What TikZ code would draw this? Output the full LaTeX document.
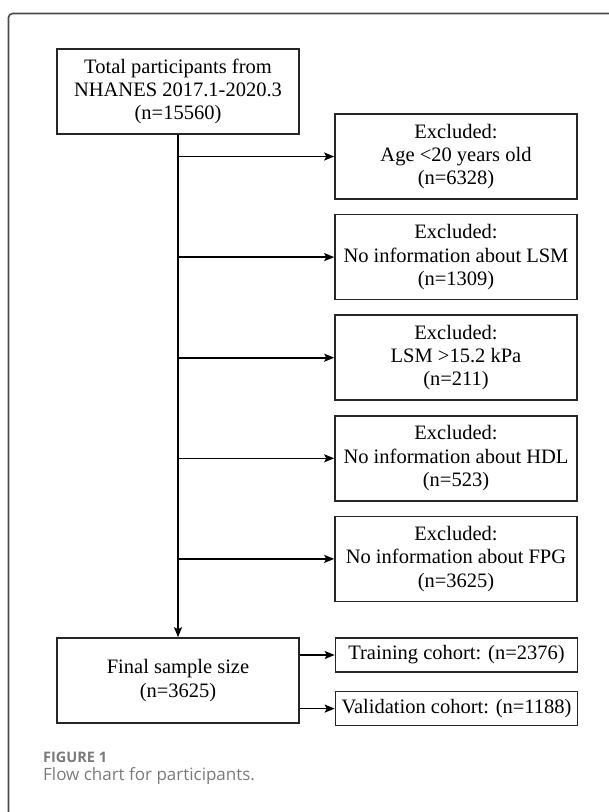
\documentclass[tikz,border=0pt]{standalone}
\usepackage{fontspec}
\setmainfont{Liberation Serif}
\newfontfamily\capfont{Open Sans}
\usepackage{xcolor}
\usepackage{tikz}
\usetikzlibrary{arrows.meta, positioning}
\definecolor{framegray}{HTML}{4A4A4A}
\definecolor{capgray}{HTML}{7A7A7A}

\begin{document}
\begin{tikzpicture}[
        x=1pt, y=-1pt,
        node distance=14pt and 37pt,
        box/.style={rectangle, draw=black!85, line width=1.6pt, minimum width=242pt, minimum height=85pt, align=center, inner sep=3pt, font=\fontsize{20.5}{23.3}\selectfont},
        smallbox/.style={box, minimum height=34pt},
        arrow/.style={-{Stealth[length=10pt, width=8pt, inset=2pt]}, line width=1.6pt}
    ]
        \useasboundingbox (0,0) rectangle (609,812);
        % Frame
        \draw[framegray, line width=1.6pt, rounded corners=4pt] (8.5,812) -- (8.5,13.5) -- (609,13.5);

        % Nodes
        \node[box] (total) at (178,91.5) {Total participants from\\NHANES 2017.1-2020.3\\(n=15560)};

        \node[box] (exc1) at (456,156.5) {Excluded:\\Age <20 years old\\(n=6328)};
        \node[box, below=of exc1] (exc2) {Excluded:\\No information about LSM\\(n=1309)};
        \node[box, below=of exc2] (exc3) {Excluded:\\LSM >15.2 kPa\\(n=211)};
        \node[box, below=of exc3] (exc4) {Excluded:\\No information about HDL\\(n=523)};
        \node[box, below=of exc4] (exc5) {Excluded:\\No information about FPG\\(n=3625)};

        \node[box] (final) at (178,680.5) {Final sample size\\(n=3625)};
        \node[smallbox] (train) at (456.5,655) {Training cohort: (n=2376)};
        \node[smallbox, below=18pt of train] (valid) {Validation cohort: (n=1188)};

        % Caption
        \node[anchor=base west, inner sep=0pt, text=capgray, font=\capfont\bfseries\fontsize{14.5}{16}\selectfont] (fig) at (43,762.3) {FIGURE 1};
        \node[anchor=base west, inner sep=0pt, text=capgray, font=\capfont\fontsize{17}{19}\selectfont] (cap) at (43,780) {Flow chart for participants.};

        % Arrows
        \draw[arrow] (total.south) -- (final.north);
        \draw[arrow] (total.south |- exc1.west) -- (exc1.west);
        \draw[arrow] (total.south |- exc2.west) -- (exc2.west);
        \draw[arrow] (total.south |- exc3.west) -- (exc3.west);
        \draw[arrow] (total.south |- exc4.west) -- (exc4.west);
        \draw[arrow] (total.south |- exc5.west) -- (exc5.west);

        \draw[arrow] (final.east |- train.west) -- (train.west);
        \draw[arrow] (final.east |- valid.west) -- (valid.west);
    \end{tikzpicture}
\end{document}
